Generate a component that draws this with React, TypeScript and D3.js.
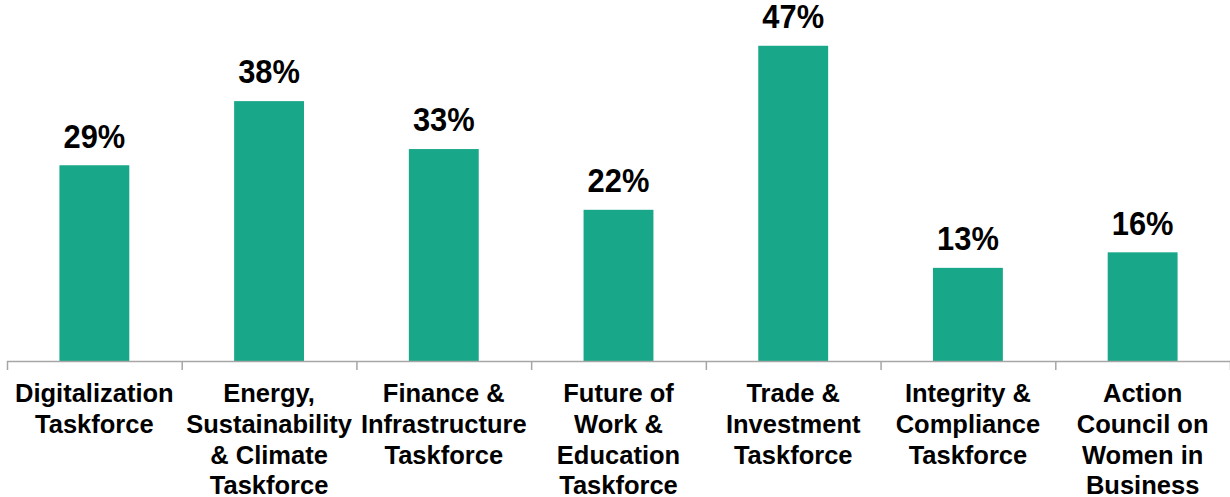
import React, { useEffect, useRef } from 'react'
import * as d3 from 'd3'

const categories = [
  'Digitalization Taskforce',
  'Energy, Sustainability & Climate Taskforce',
  'Finance & Infrastructure Taskforce',
  'Future of Work & Education Taskforce',
  'Trade & Investment Taskforce',
  'Integrity & Compliance Taskforce',
  'Action Council on Women in Business',
]

// wrapped lines of each category label, as shown
const categoryLines = [
  ['Digitalization', 'Taskforce'],
  ['Energy,', 'Sustainability', '& Climate', 'Taskforce'],
  ['Finance &', 'Infrastructure', 'Taskforce'],
  ['Future of', 'Work &', 'Education', 'Taskforce'],
  ['Trade &', 'Investment', 'Taskforce'],
  ['Integrity &', 'Compliance', 'Taskforce'],
  ['Action', 'Council on', 'Women in', 'Business'],
]

// bar heights as drawn, and the printed labels
const values = [29.0, 38.5, 31.4, 22.4, 46.7, 13.8, 16.1]
const valueLabels = ['29%', '38%', '33%', '22%', '47%', '13%', '16%']

const W = 1230
const H = 497
const FONT = '"Liberation Sans", Arial, sans-serif'

export default function App() {
  const ref = useRef<SVGSVGElement>(null)

  useEffect(() => {
    document.body.style.margin = '0'
    const svg = d3.select(ref.current)
    svg.selectAll('*').remove()

    const base = 361
    const x = d3.scaleBand<string>().domain(categories).range([7, W]).paddingInner(0.6).paddingOuter(0.3)
    const y = d3.scaleLinear().domain([0, 50]).range([base, base - 50 * 6.75])

    const g = svg.append('g')

    g.selectAll('rect.bar')
      .data(categories)
      .join('rect')
      .attr('class', 'bar')
      .attr('x', d => x(d)!)
      .attr('width', x.bandwidth())
      .attr('y', (d, i) => y(values[i]))
      .attr('height', (d, i) => base - y(values[i]))
      .attr('fill', '#19a78a')

    // axis line and category boundary ticks
    const gap = (x.step() - x.bandwidth()) / 2
    const ticks = categories.map(c => x(c)! - gap).concat([x.range()[1]])
    g.append('line')
      .attr('x1', x.range()[0]).attr('x2', x.range()[1])
      .attr('y1', base + 0.5).attr('y2', base + 0.5)
      .attr('stroke', '#a6a6a6').attr('stroke-width', 1.5)
    g.selectAll('line.tick')
      .data(ticks)
      .join('line')
      .attr('class', 'tick')
      .attr('x1', d => d + 0.5).attr('x2', d => d + 0.5)
      .attr('y1', base).attr('y2', base + 9)
      .attr('stroke', '#a6a6a6').attr('stroke-width', 1.5)

    g.selectAll('text.val')
      .data(categories)
      .join('text')
      .attr('class', 'val')
      .attr('transform', (d, i) => `translate(${x(d)! + x.bandwidth() / 2},${y(values[i]) - 17.7}) scale(0.95,1)`)
      .attr('text-anchor', 'middle')
      .attr('font-family', FONT)
      .attr('font-weight', 'bold')
      .attr('font-size', 32.5)
      .attr('fill', '#000')
      .text((d, i) => valueLabels[i])

    const cats = g.selectAll('text.cat')
      .data(categories)
      .join('text')
      .attr('class', 'cat')
      .attr('text-anchor', 'middle')
      .attr('font-family', FONT)
      .attr('font-weight', 'bold')
      .attr('font-size', 25.5)
      .attr('fill', '#000')

    cats.each(function (d, i) {
      const t = d3.select(this)
      const cx = x(d)! + x.bandwidth() / 2
      categoryLines[i].forEach((line, j) => {
        t.append('tspan').attr('x', cx).attr('y', 402.3 + j * 30.7).text(line)
      })
    })
  }, [])

  return <svg ref={ref} width={W} height={H} style={{ display: 'block' }} />
}
